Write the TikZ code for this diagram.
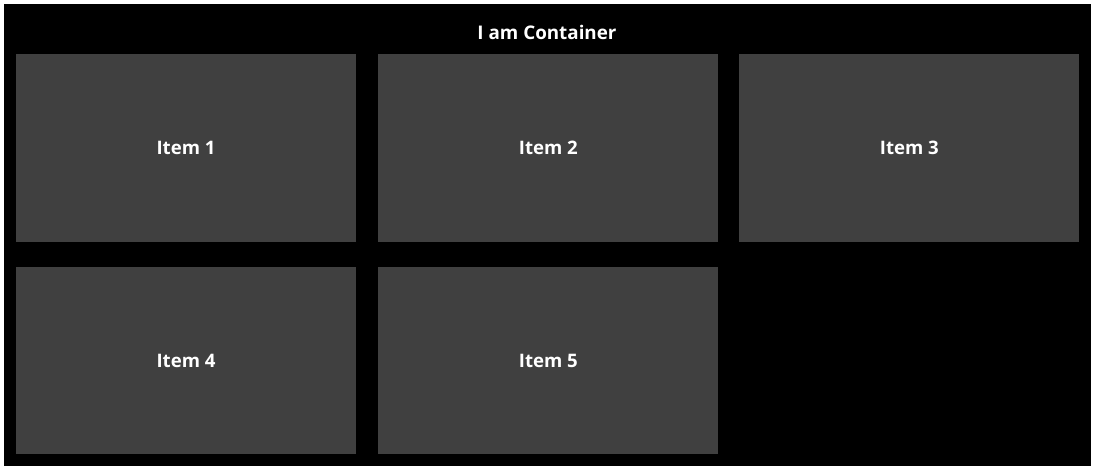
\documentclass[tikz,border=0pt]{standalone}
\usepackage{fontspec}
\setmainfont{Open Sans}
\usepackage{xcolor}
\usetikzlibrary{positioning}
\definecolor{itemgray}{HTML}{404040}
\tikzstyle{item} = [fill=itemgray, rectangle, inner sep=0pt, minimum width=340pt, minimum height=188pt, text=white, font=\fontsize{18.6}{22}\selectfont\bfseries]

\begin{document}
\begin{tikzpicture}[x=1pt, y=-1pt]
    \useasboundingbox (0,0) rectangle (1095,470);
    \node[fill=black, rectangle, inner sep=0pt, minimum width=1087pt, minimum height=462pt] (container) at (547.5,235) {};
    \node[text=white, font=\fontsize{18.8}{22}\selectfont\bfseries] (title) at (547,32.5) {I am Container};
    \node[item] (item1) at (186,148) {Item 1};
    \node[item, right=22pt of item1] (item2) {Item 2};
    \node[item, right=20.5pt of item2] (item3) {Item 3};
    \node[item, below=25pt of item1, minimum height=187pt] (item4) {Item 4};
    \node[item, right=22pt of item4, minimum height=187pt] (item5) {Item 5};
\end{tikzpicture}
\end{document}
